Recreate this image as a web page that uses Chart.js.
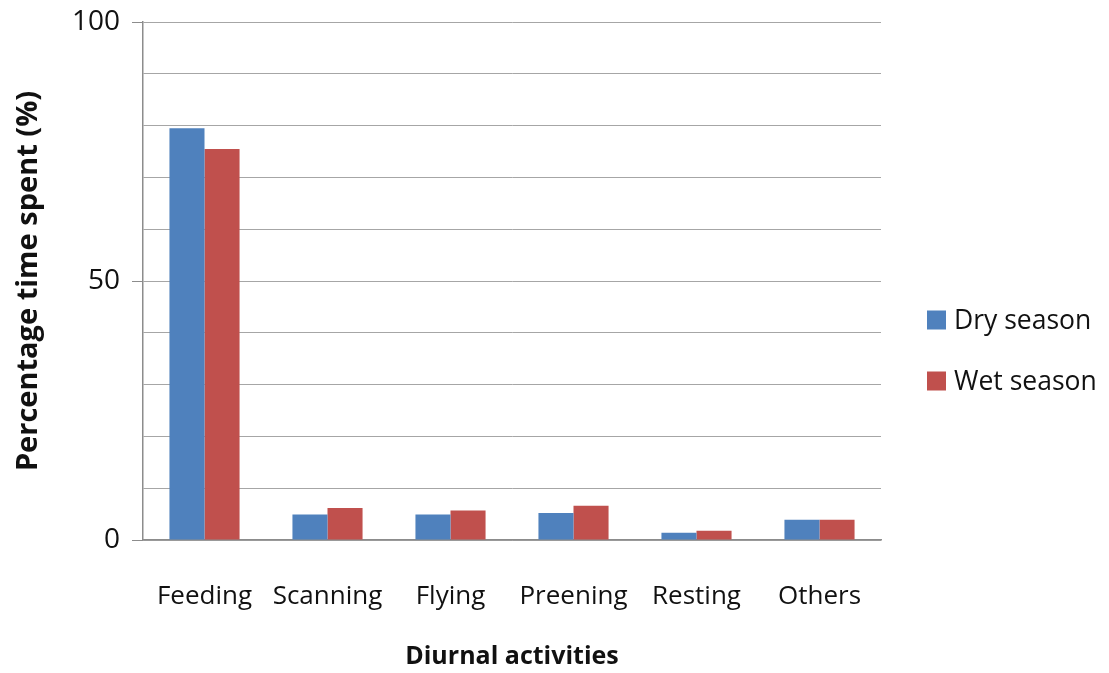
<!DOCTYPE html>
<html>
<head>
<meta charset="utf-8">
<script src="https://cdn.jsdelivr.net/npm/chart.js@4/dist/chart.umd.min.js"></script>
<style>
  html, body { margin: 0; padding: 0; background: #fff; }
  #wrap { width: 1109px; height: 673px; position: relative; }
</style>
</head>
<body>
<div id="wrap"><canvas id="chart"></canvas></div>
<script>
// Time budget of diurnal activities, by season (% of observed time)
var activities = ['Feeding', 'Scanning', 'Flying', 'Preening', 'Resting', 'Others'];
var drySeason = [79.5, 4.9, 4.9, 5.2, 1.4, 3.9];
var wetSeason = [75.5, 6.2, 5.7, 6.6, 1.8, 3.9];
var seriesNames = ['Dry season', 'Wet season'];
var seriesColors = ['#4F81BD', '#C0504D'];

var FONT = '"Open Sans", "Noto Sans", sans-serif';

// Legend on the right, stacked, drawn next to the plot area
var sideLegend = {
  id: 'sideLegend',
  afterDraw: function(chart) {
    var ctx = chart.ctx;
    var x = chart.chartArea.right + 46;
    var rows = [320, 381];
    ctx.save();
    ctx.font = '26.5px ' + FONT;
    ctx.textBaseline = 'middle';
    ctx.textAlign = 'left';
    chart.data.datasets.forEach(function(ds, i) {
      ctx.fillStyle = ds.backgroundColor;
      ctx.fillRect(x, rows[i] - 9.5, 19, 19);
      ctx.fillStyle = '#111';
      ctx.fillText(ds.label, x + 27, rows[i] + 1);
    });
    ctx.restore();
  }
};

new Chart(document.getElementById('chart'), {
  type: 'bar',
  data: {
    labels: activities,
    datasets: [
      { label: seriesNames[0], data: drySeason, backgroundColor: seriesColors[0] },
      { label: seriesNames[1], data: wetSeason, backgroundColor: seriesColors[1] }
    ]
  },
  options: {
    responsive: true,
    maintainAspectRatio: false,
    animation: false,
    layout: { padding: { top: 22, right: 228, bottom: 0, left: 0 } },
    datasets: { bar: { categoryPercentage: 0.57, barPercentage: 1.0 } },
    plugins: {
      legend: { display: false },
      tooltip: { enabled: false }
    },
    scales: {
      x: {
        afterFit: function(s) { s.height = 133; },
        grid: { display: false, drawTicks: false },
        border: { color: '#8c8c8c', width: 1.5 },
        ticks: { color: '#111', padding: 41, maxRotation: 0, autoSkip: false, font: { family: FONT, size: 26 } },
        title: {
          display: true, text: 'Diurnal activities', color: '#111',
          font: { family: FONT, size: 25, weight: 'bold' },
          padding: { top: 0, bottom: 1 }
        }
      },
      y: {
        min: 0, max: 100,
        afterFit: function(s) { s.width = 143; },
        border: { color: '#8c8c8c', width: 1.5 },
        grid: {
          color: '#a6a6a6',
          lineWidth: 1,
          tickLength: 11,
          tickColor: function(c) { return c.tick && c.tick.value % 50 === 0 ? '#8c8c8c' : 'rgba(0,0,0,0)'; }
        },
        ticks: {
          stepSize: 10,
          padding: 12,
          color: '#111',
          font: { family: FONT, size: 28, lineHeight: 0.7 },
          callback: function(v) { return v % 50 === 0 ? v : ''; }
        },
        title: {
          display: true, text: 'Percentage time spent (%)', color: '#111',
          font: { family: FONT, size: 29, weight: 'bold' },
          padding: { top: 11, bottom: 0 }
        }
      }
    }
  },
  plugins: [sideLegend]
});
</script>
</body>
</html>
